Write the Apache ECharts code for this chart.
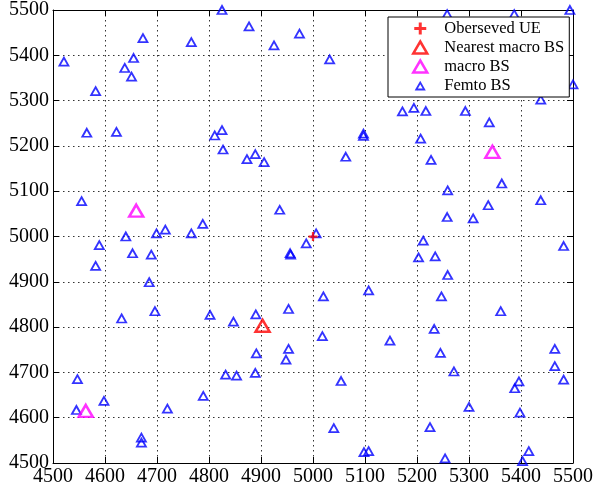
<!DOCTYPE html>
<html>
<head>
<meta charset="utf-8">
<script src="https://cdn.jsdelivr.net/npm/echarts@6/dist/echarts.min.js"></script>
<style>
  html, body { margin: 0; padding: 0; background: #fff; }
  #chart { width: 596px; height: 493px; }
</style>
</head>
<body>
<div id="chart"></div>
<script>
// axis range (both axes)
const axisMin = 4500;
const axisMax = 5500;
const tickStep = 100;

const observedUE = [[5000, 5000]];
const nearestMacroBS = [[4903, 4803]];
const macroBS = [[4660, 5057], [5345, 5187], [4563, 4615]];
const femtoBS = [
  [4521, 5386], [4673, 5438], [4655, 5394], [4638, 5372], [4651, 5353], [4582, 5321],
  [4565, 5229], [4622, 5231], [4766, 5429], [4825, 5500], [4877, 5464], [4925, 5422],
  [4974, 5448], [4811, 5223], [4825, 5235], [4827, 5192], [4873, 5171], [4889, 5182],
  [4906, 5164], [4555, 5078], [4936, 5059], [4788, 5028], [4766, 5007], [4716, 5015],
  [4699, 5007], [4640, 5000], [4589, 4981],
  [5032, 5391], [5258, 5491], [5387, 5491], [5494, 5500], [5500, 5336], [5438, 5302],
  [5172, 5276], [5194, 5284], [5217, 5277], [5293, 5277], [5339, 5252], [5097, 5227],
  [5097, 5222], [5207, 5216], [5063, 5176], [5227, 5169], [5363, 5117], [5259, 5102],
  [5438, 5080], [5337, 5069], [5258, 5043], [5308, 5040], [5006, 5007], [4987, 4985],
  [5212, 4991], [5482, 4979],
  [4653, 4963], [4689, 4960], [4582, 4935], [4685, 4899], [4696, 4835], [4632, 4819],
  [4802, 4827], [4847, 4812], [4890, 4828], [4953, 4840], [4956, 4963], [4957, 4960],
  [4953, 4752], [4948, 4728], [4891, 4742], [4889, 4699], [4832, 4695], [4853, 4693],
  [4789, 4648], [4720, 4620], [4598, 4637], [4547, 4685], [4545, 4617], [4670, 4556],
  [4670, 4545],
  [5203, 4954], [5235, 4956], [5259, 4915], [5020, 4868], [5107, 4881], [5247, 4868],
  [5361, 4835], [5233, 4796], [5018, 4780], [5148, 4770], [5245, 4743], [5465, 4752],
  [5465, 4714], [5271, 4702], [5054, 4681], [5396, 4680], [5388, 4665], [5482, 4684],
  [5300, 4624], [5398, 4611], [5040, 4577], [5225, 4579], [5098, 4524], [5107, 4526],
  [5415, 4526], [5254, 4510], [5403, 4504]
];

const FONT = "'Liberation Serif', 'Times New Roman', serif";
const plusPath = "path://M3,0H5V3H8V5H5V8H3V5H0V3H3Z";
const femtoIcon = "path://M0,0M14,12M3,10L7,3L11,10Z";

const chart = echarts.init(document.getElementById("chart"));

// shared axis look, main axes get labels, twin axes only ticks (box)
const axisBase = (pos, withLabels) => ({
  type: "value",
  position: pos,
  min: axisMin,
  max: axisMax,
  interval: tickStep,
  axisLine: { show: true, onZero: false, lineStyle: { color: "#000", width: 1 } },
  axisTick: { show: true, inside: true, length: 6, lineStyle: { color: "#000" } },
  axisLabel: withLabels
    ? {
        show: true, color: "#000", fontFamily: FONT, fontSize: 20,
        margin: 4,
        formatter: (v) => String(v)
      }
    : { show: false },
  splitLine: withLabels
    ? { show: true, lineStyle: { color: "#333", type: [1.5, 3.5], width: 1 } }
    : { show: false }
});

chart.setOption({
  animation: false,
  grid: { left: 53, right: 21, top: 9, bottom: 30 },
  xAxis: [axisBase("bottom", true), axisBase("top", false)],
  yAxis: [axisBase("left", true), axisBase("right", false)],
  legend: {
    left: 388,
    top: 17,
    orient: "vertical",
    backgroundColor: "#fff",
    borderColor: "#000",
    borderWidth: 1,
    borderRadius: 0,
    padding: [2, 5, 2, 24],
    itemWidth: 14,
    itemHeight: 12,
    itemGap: 0,
    textStyle: { color: "#000", fontFamily: FONT, fontSize: 16.5, lineHeight: 19, padding: [0, 0, 0, 12] },
    data: [
      { name: "Oberseved UE", icon: plusPath, itemStyle: { color: "#ff0000", borderWidth: 0 } },
      { name: "Nearest macro BS", icon: "triangle", itemStyle: { color: "transparent", borderColor: "#ff0000", borderWidth: 2.5 } },
      { name: "macro BS", icon: "triangle", itemStyle: { color: "transparent", borderColor: "#ff00ff", borderWidth: 2.5 } },
      { name: "Femto BS", icon: femtoIcon, itemStyle: { color: "transparent", borderColor: "#0000ff", borderWidth: 1.8 } }
    ]
  },
  series: [
    {
      name: "Femto BS",
      type: "scatter",
      data: femtoBS,
      symbol: "triangle",
      symbolSize: [9, 8],
      itemStyle: { color: "transparent", borderColor: "#0000ff", borderWidth: 1.8 },
      z: 2
    },
    {
      name: "macro BS",
      type: "scatter",
      data: macroBS,
      symbol: "triangle",
      symbolSize: [14, 12],
      itemStyle: { color: "transparent", borderColor: "#ff00ff", borderWidth: 2.5 },
      z: 3
    },
    {
      name: "Nearest macro BS",
      type: "scatter",
      data: nearestMacroBS,
      symbol: "triangle",
      symbolSize: [14, 12],
      itemStyle: { color: "transparent", borderColor: "#ff0000", borderWidth: 2.5 },
      z: 4
    },
    {
      name: "Oberseved UE",
      type: "scatter",
      data: observedUE,
      symbol: plusPath,
      symbolSize: 9,
      itemStyle: { color: "#ff0000" },
      z: 5
    }
  ]
});
</script>
</body>
</html>
